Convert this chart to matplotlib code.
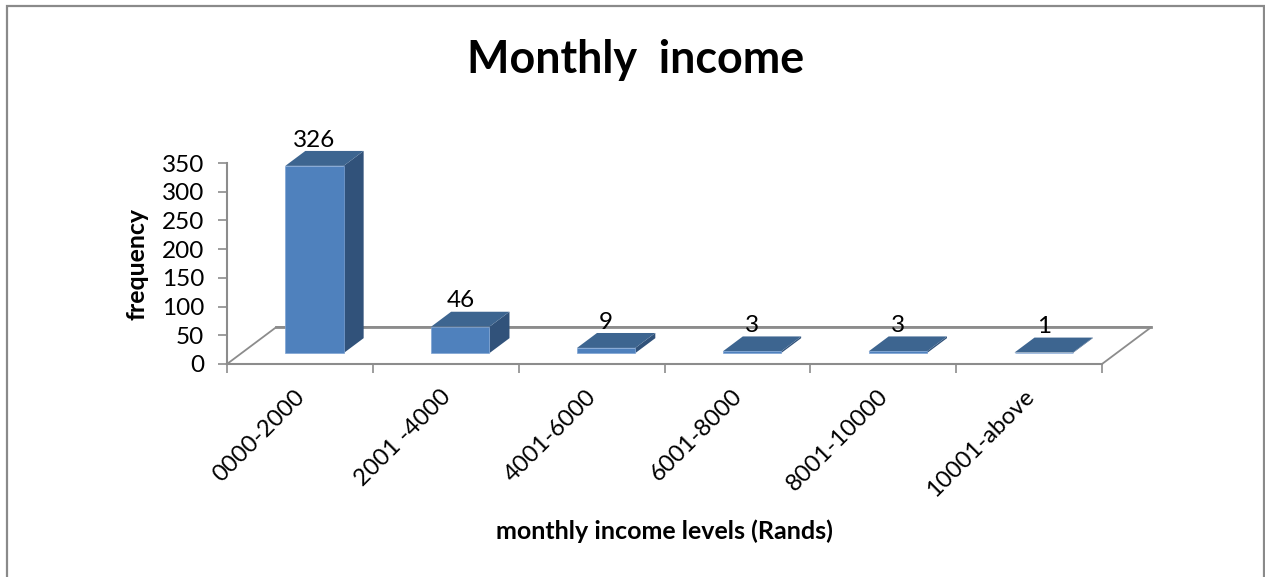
import matplotlib
matplotlib.use("Agg")
import matplotlib.pyplot as plt
from matplotlib.patches import Polygon, Rectangle

categories = ["0000-2000", "2001 -4000", "4001-6000", "6001-8000", "8001-10000", "10001-above"]
values = [326, 46, 9, 3, 3, 1]
yticks = [0, 50, 100, 150, 200, 250, 300, 350]
title = "Monthly  income"
xlabel = "monthly income levels (Rands)"
ylabel = "frequency"

W, H = 1265, 577
FRONT, TOP, SIDE = "#4f81bd", "#3d6590", "#31527a"
GREY = "#8c8c8c"
plt.rcParams["font.family"] = ["Lato", "DejaVu Sans"]

fig = plt.figure(figsize=(W / 100, H / 100), dpi=100, facecolor="white")
L, R, T, B = 227, 1102, 163, 364
ax = fig.add_axes([L / W, 1 - B / H, (R - L) / W, (B - T) / H], facecolor="none")
ax.set_xlim(0, 6)
ax.set_ylim(0, 350)

# chart border
fig.add_artist(Rectangle((6.5 / W, -0.05), (1264 - 6.5) / W, 1.05 - 6.5 / H, transform=fig.transFigure,
                         fill=False, ec="#8a8a8a", lw=1.6))

# oblique floor
depth_x, depth_y = 0.339, 64.4
ax.plot([0, depth_x, 6 + depth_x, 6], [0, depth_y, depth_y, 0], color=GREY, lw=1.3,
        clip_on=False, zorder=1)
ax.plot([depth_x, 6 + depth_x], [depth_y, depth_y], color=GREY, lw=2.0, clip_on=False, zorder=1)

# oblique bars
bar_w, base, off, bx, by = 0.4, 19.0, 0.4, 0.137, 26.0
for i, v in enumerate(values):
    x0 = i + off
    x1 = x0 + bar_w
    y0 = base
    y1 = base + v
    ax.add_patch(Polygon([(x1, y0), (x1 + bx, y0 + by), (x1 + bx, y1 + by), (x1, y1)],
                         fc=SIDE, ec="none", clip_on=False, zorder=3))
    ax.add_patch(Polygon([(x0, y1), (x1, y1), (x1 + bx, y1 + by), (x0 + bx, y1 + by)],
                         fc=TOP, ec="none", clip_on=False, zorder=3))
    ax.add_patch(Polygon([(x0, y0), (x1, y0), (x1, y1), (x0, y1)],
                         fc=FRONT, ec="#7da3d4", lw=0.5, clip_on=False, zorder=4))
    ax.annotate(str(v), (x0 + bar_w / 2, y1), xytext=(0, 18.5), textcoords="offset points",
                ha="center", va="center", fontsize=17.5, color="black", zorder=5,
                annotation_clip=False)

for s in ("top", "right"):
    ax.spines[s].set_visible(False)
for s in ("left", "bottom"):
    ax.spines[s].set_color(GREY)
    ax.spines[s].set_linewidth(1.5)

ax.set_yticks(yticks)
ax.tick_params(axis="y", length=6.5, width=1.2, color=GREY, labelsize=17.5, pad=10)
ax.set_xticks(range(7))
ax.set_xticklabels([])
ax.tick_params(axis="x", length=6.5, width=1.2, color=GREY)
for i, c in enumerate(categories):
    ax.annotate(c, (i + 0.5, 0), xytext=(1, -21), textcoords="offset points", rotation=45,
                rotation_mode="anchor", ha="right", va="center", fontsize=17.2,
                annotation_clip=False)

fig.text(636 / W, 1 - 60 / H, title, ha="center", va="center", fontsize=32.3, fontweight="bold")
fig.text(664 / W, 1 - 531 / H, xlabel, ha="center", va="center", fontsize=18, fontweight="bold")
fig.text(137 / W, 1 - 264 / H, ylabel, ha="center", va="center", rotation=90, fontsize=17.9, fontweight="bold")

fig.savefig("out.png", dpi=100)
